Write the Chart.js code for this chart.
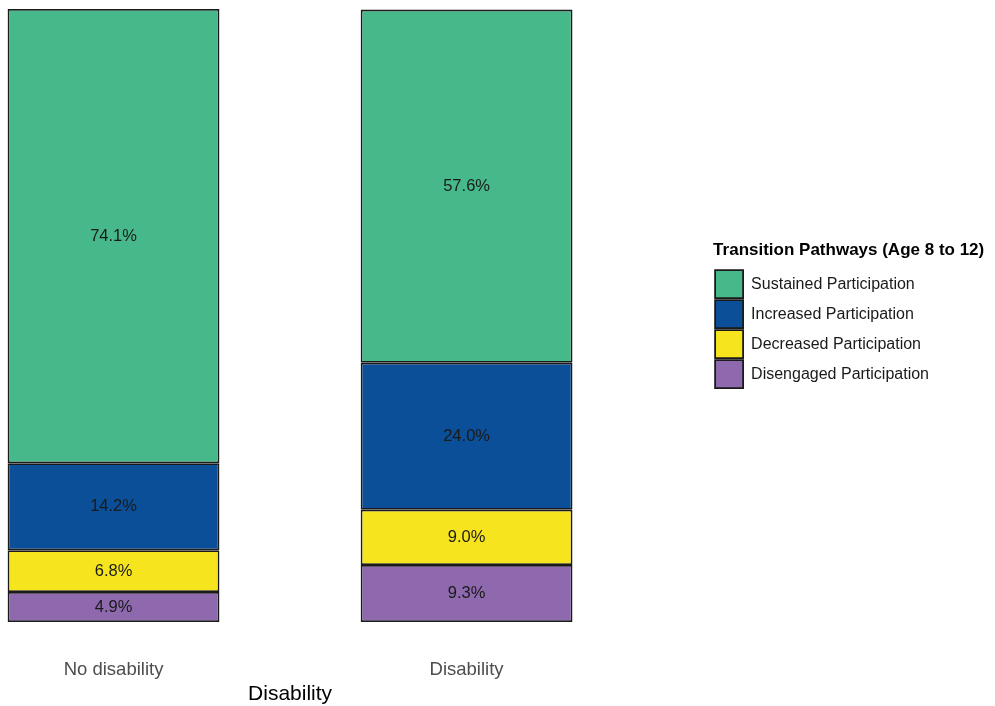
<!DOCTYPE html>
<html>
<head>
<meta charset="utf-8">
<title>Transition Pathways by Disability</title>
<script src="https://cdn.jsdelivr.net/npm/chart.js@4.4.1/dist/chart.umd.min.js"></script>
<style>
  body { margin: 0; background: #fff; overflow: hidden; }
  /* the plot panel starts a bit left of the page edge */
  #wrap { width: 1058px; height: 706px; margin-left: -63px; position: relative; }
</style>
</head>
<body>
<div id="wrap"><canvas id="chart"></canvas></div>
<script>
// percentages per group, bottom segment first
const categories = ["No disability", "Disability"];
const pathways = [
  "Disengaged Participation",
  "Decreased Participation",
  "Increased Participation",
  "Sustained Participation",
];
const disengaged = [4.9, 9.3];
const decreased = [6.8, 9.0];
const increased = [14.2, 24.0];
const sustained = [74.1, 57.6];
const colours = ["#8E69AE", "#F6E41E", "#0A4F97", "#46B88A"];

const FONT = "'Liberation Sans', Arial, sans-serif";
const series = [disengaged, decreased, increased, sustained];

// write the percentage in the middle of every segment
const segmentLabels = {
  id: "segmentLabels",
  afterDatasetsDraw(chart) {
    const ctx = chart.ctx;
    ctx.save();
    ctx.font = "16.5px " + FONT;
    ctx.fillStyle = "#1a1a1a";
    ctx.textAlign = "center";
    ctx.textBaseline = "middle";
    chart.data.datasets.forEach((ds, i) => {
      chart.getDatasetMeta(i).data.forEach((bar, j) => {
        ctx.fillText(ds.data[j].toFixed(1) + "%", bar.x, (bar.y + bar.base) / 2);
      });
    });
    ctx.restore();
  },
};

// leave some room between the plot and the legend, and let the
// legend box run to the canvas edge so the long title is not cut off
const legendGap = {
  id: "legendGap",
  afterLayout(chart) {
    const lg = chart.legend;
    lg.left += 70;
    lg.right = chart.width;
    lg.width = lg.right - lg.left;
  },
};

new Chart(document.getElementById("chart"), {
  type: "bar",
  data: {
    labels: categories,
    datasets: series.map((values, i) => ({
      label: pathways[i],
      data: values,
      backgroundColor: colours[i],
      borderColor: "#1a1a1a",
      borderWidth: 1.8,
      borderSkipped: false,
      categoryPercentage: 0.6,
      barPercentage: 1.0,
    })),
  },
  options: {
    responsive: true,
    maintainAspectRatio: false,
    animation: false,
    layout: { padding: { left: 0, right: 126, top: 9, bottom: 0 } },
    scales: {
      x: {
        stacked: true,
        grid: { display: false, drawTicks: false },
        border: { display: false },
        ticks: { padding: 37, color: "#4d4d4d", font: { family: FONT, size: 18.5 } },
        title: {
          display: true,
          text: "Disability",
          color: "#000",
          font: { family: FONT, size: 21 },
          padding: { top: 0, bottom: -1 },
        },
        afterFit(scale) {
          scale.height = 84;
        },
      },
      y: { stacked: true, display: false, min: 0, max: 100 },
    },
    plugins: {
      tooltip: { enabled: false },
      legend: {
        position: "right",
        fullSize: false,
        reverse: true,
        labels: {
          boxWidth: 28,
          boxHeight: 28,
          padding: 2,
          color: "#1a1a1a",
          font: { family: FONT, size: 16 },
        },
        title: {
          display: true,
          text: "Transition Pathways (Age 8 to 12)",
          position: "start",
          color: "#000",
          font: { family: FONT, size: 17, weight: "bold" },
          padding: { top: 1, bottom: 6 },
        },
      },
    },
  },
  plugins: [segmentLabels, legendGap],
});
</script>
</body>
</html>
